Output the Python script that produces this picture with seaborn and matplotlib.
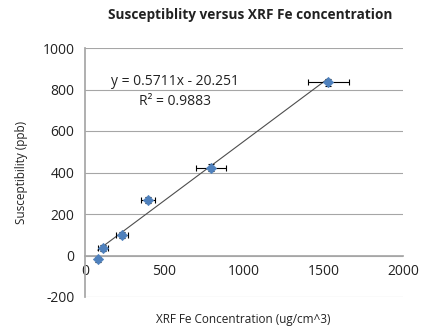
import matplotlib
matplotlib.use("Agg")
import matplotlib.pyplot as plt
import seaborn as sns
import numpy as np
import pandas as pd

# Data
fe_conc = [80, 111, 231, 398, 790, 1530]
suscept = [-19, 37, 98, 266, 424, 835]
x_err = [0, 31, 37, 45, 94, 129]
y_err = [14, 15, 15, 15, 15, 16]
slope = 0.5711
intercept = -20.251
r2 = 0.9883

df = pd.DataFrame({"x": fe_conc, "y": suscept})

sns.set_theme(style="white")
plt.rcParams['font.family'] = ['Open Sans', 'DejaVu Sans']
plt.rcParams['axes.unicode_minus'] = False

fig = plt.figure(figsize=(4.33, 3.28), dpi=100)
ax = fig.add_axes([85/433, 1-297/328, (403-85)/433, (297-48)/328])

# trendline
xs = np.array([min(fe_conc), max(fe_conc)])
trend = pd.DataFrame({"x": xs, "y": slope*xs + intercept})
sns.lineplot(data=trend, x="x", y="y", ax=ax, color="#4d4d4d", lw=0.8, zorder=2)

ax.errorbar(fe_conc, suscept, xerr=x_err, yerr=y_err, fmt="none",
            ecolor="black", elinewidth=0.8, capsize=2.5, capthick=0.8, zorder=3)
sns.scatterplot(data=df, x="x", y="y", ax=ax, marker="D", s=28,
                color="#4F81BD", edgecolor="#4F81BD", zorder=4)

ax.set_xlim(0, 2000)
ax.set_ylim(-200, 1000)
ax.set_xticks([0, 500, 1000, 1500, 2000])
ax.set_yticks([-200, 0, 200, 400, 600, 800, 1000])
ax.yaxis.grid(True, color="#a6a6a6", lw=0.8)
ax.set_axisbelow(True)

for s in ["top", "right"]:
    ax.spines[s].set_visible(False)
ax.spines["bottom"].set_position(("data", 0))
ax.spines["bottom"].set_color("#a6a6a6")
ax.spines["left"].set_color("#a6a6a6")
ax.tick_params(axis="both", which="both", direction="out", length=4,
               color="#a6a6a6", labelsize=10, labelcolor="#222222")
ax.tick_params(axis="x", pad=2)
ax.set_xlabel("")
ax.set_ylabel("")

fig.text(243/433, 1-319/328, "XRF Fe Concentration (ug/cm^3)", ha="center", va="center",
         fontsize=8.5, color="#222222")
fig.text(22/433, 1-172/328, "Susceptibility (ppb)", ha="center", va="center",
         rotation=90, fontsize=8.5, color="#222222")
fig.text(250/433, 1-15/328, "Susceptiblity versus XRF Fe concentration", ha="center",
         va="center", fontsize=9.8, fontweight="bold", color="#222222")

ax.text(566, 838, "y = 0.5711x - 20.251", ha="center", va="center", fontsize=10, color="#222222")
ax.text(566, 742, "R² = 0.9883", ha="center", va="center", fontsize=10, color="#222222")

fig.savefig("out.png", dpi=100)
